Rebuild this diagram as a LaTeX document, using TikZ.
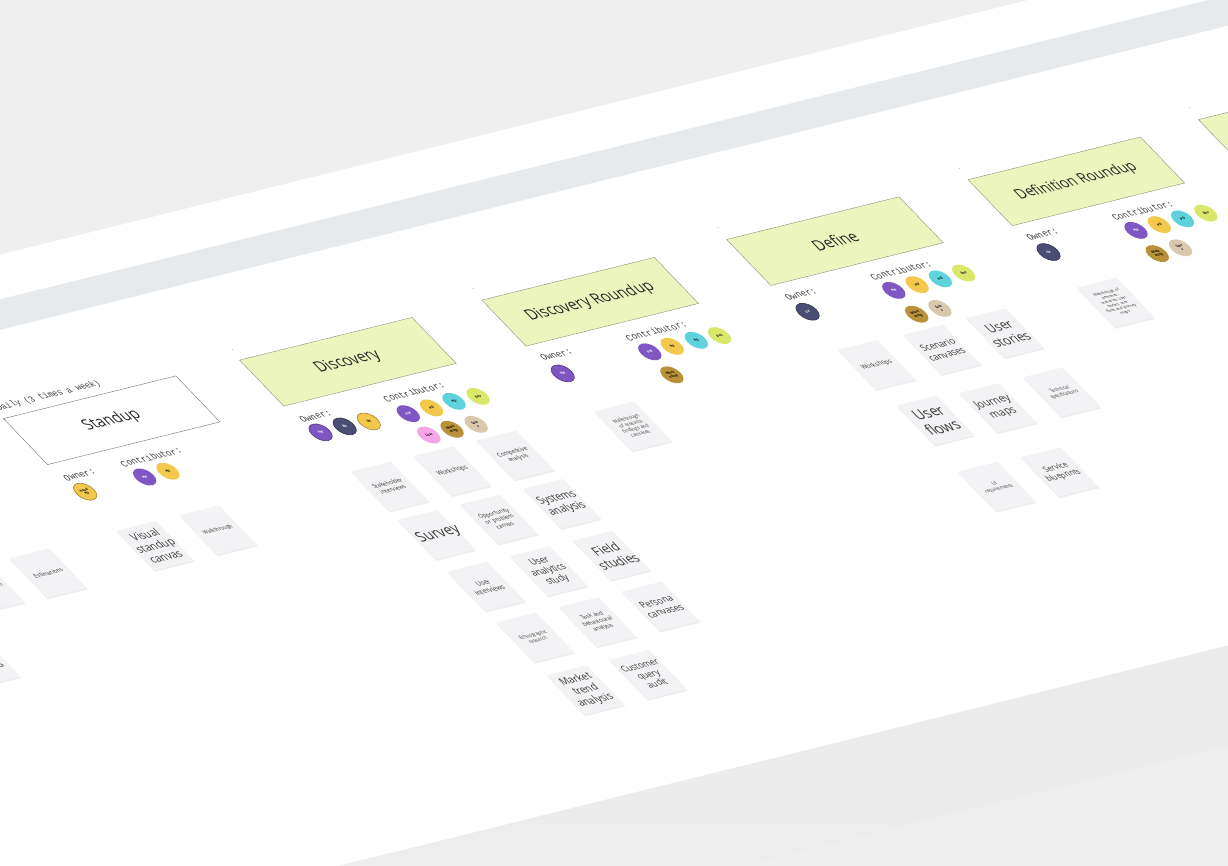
\documentclass[tikz,border=0pt]{standalone}
\usepackage{fontspec}
\setmainfont{Open Sans}
\setmonofont{Liberation Mono}
\usetikzlibrary{shadows}

\definecolor{bggrey}{HTML}{EFEFF0}
\definecolor{stripe}{HTML}{E7EAED}
\definecolor{lime}{HTML}{EDF5BE}
\definecolor{limeline}{HTML}{8E9382}
\definecolor{stickyfill}{HTML}{F3F3F5}
\definecolor{stickytext}{HTML}{3A3A3A}
\definecolor{pm}{HTML}{7E57C2}
\definecolor{pd}{HTML}{F2C94C}
\definecolor{po}{HTML}{5ED3DC}
\definecolor{dev}{HTML}{D9E86B}
\definecolor{cust}{HTML}{F4A6E8}
\definecolor{mkt}{HTML}{B8923A}
\definecolor{sales}{HTML}{D8C8AE}
\definecolor{ba}{HTML}{4B4E74}

\newcommand\fsz[1]{\fontsize{#1pt}{\dimexpr#1pt*6/5\relax}\selectfont}

\begin{document}
\begin{tikzpicture}[x=1pt,y=-1pt,
  frame box/.style={draw=limeline,fill=lime,minimum width=200pt,minimum height=56pt,
    anchor=north west,inner sep=0pt,font=\fsz{16},text=black!85},
  role label/.style={anchor=west,font=\ttfamily\fsz{9.5},text=black!75},
  avatar/.style={circle,minimum size=20pt,inner sep=0pt,align=center,
    font=\fsz{3.4}\bfseries},
  owner/.style={avatar,draw=#1!65!black,fill=#1,line width=0.6pt},
  contrib/.style={avatar,fill=#1},
  sticky/.style={fill=stickyfill,minimum width=46pt,minimum height=48pt,inner sep=1pt,
    align=center,text width=42pt,text=stickytext,
    drop shadow={shadow xshift=0.6pt,shadow yshift=-1.6pt,opacity=0.07,fill=black}},
  dash mark/.style={font=\fsz{5},text=black!70}]

\useasboundingbox (0,0) rectangle (1228,866);
\clip (0,0) rectangle (1228,866);
\fill[bggrey] (0,0) rectangle (1228,866);

\begin{scope}[cm={0.862,0.2135,-0.789,0.821,(239.3pt,-360pt)},transform shape]

% board surface
\fill[white] (-1200,-162) rectangle (2400,522);
\fill[stripe] (-1200,-118) rectangle (2400,-88);
\shade[top color=black!9,bottom color=bggrey] (-1200,522) rectangle (2400,620);

% earlier frame, mostly out of view
\node[sticky,font=\fsz{6}] (prio) at (-442,162) {Prioritisation};
\node[sticky,font=\fsz{6}] (estim) at (-371,163) {Estimations};
\node[sticky,font=\fsz{11}] (stories0) at (-513,234) {User\\stories};

% Standup
\node[frame box,fill=white,draw=black!55] (standup) at (-274,0) {Standup};
\node[anchor=base west,font=\ttfamily\fsz{9},text=black!75] (daily) at (-274,-9) {Daily (3 times a week)};
\node[role label] (stOwner) at (-274,74) {Owner:};
\node[role label] (stContrib) at (-208,74) {Contributor:};
\node[owner=pd] (stHead) at (-263,92) {Head\\PD};
\node[contrib=pm,text=white] (stPM) at (-194,92) {PM};
\node[contrib=pd] (stPD) at (-167,92) {PD};
\node[sticky,font=\fsz{11}] (visual) at (-246,162) {Visual\\standup\\canvas};
\node[sticky,font=\fsz{5.5}] (walk0) at (-173,162) {Walkthrough};

% Discovery
\node[dash mark] (dsDash) at (3,-11) {-};
\node[frame box] (discovery) at (0,0) {Discovery};
\node[role label] (dsOwner) at (0,74) {Owner:};
\node[role label] (dsContrib) at (97,74) {Contributor:};
\node[owner=pm,text=white] (dsO1) at (11,91) {PM};
\node[owner=ba,text=white] (dsO2) at (39,91) {BA};
\node[owner=pd] (dsO3) at (66,92) {UX};
\node[contrib=pm,text=white] (dsC1) at (110,94) {PM};
\node[contrib=pd] (dsC2) at (137,94) {PD};
\node[contrib=po] (dsC3) at (164,93) {PO};
\node[contrib=dev] (dsC4) at (191,94) {Dev};
\node[contrib=cust] (dsC5) at (110,120) {Cust};
\node[contrib=mkt] (dsC6) at (137,120) {Mark\\eting};
\node[contrib=sales] (dsC7) at (164,121) {Sale\\s};

\node[sticky,font=\fsz{6}] (stake) at (27.5,161) {Stakeholder\\interviews};
\node[sticky,font=\fsz{6.5}] (work1) at (100,161) {Workshops};
\node[sticky,font=\fsz{6}] (compet) at (173,161) {Competitive\\analysis};
\node[sticky,font=\fsz{15}] (survey) at (27.5,220) {Survey};
\node[sticky,font=\fsz{6}] (oppor) at (100,220) {Opportunity\\or problem\\canvas};
\node[sticky,font=\fsz{11}] (systems) at (173,220) {Systems\\analysis};
\node[sticky,font=\fsz{7}] (userint) at (27.5,283) {User\\interviews};
\node[sticky,font=\fsz{9.5}] (analytics) at (100,283) {User\\analytics\\study};
\node[sticky,font=\fsz{13}] (field) at (173,283) {Field\\studies};
\node[sticky,font=\fsz{5}] (ethno) at (27.5,345) {Ethnographic\\research};
\node[sticky,font=\fsz{6}] (task) at (100,345) {Task and\\behavioural\\analysis};
\node[sticky,font=\fsz{9.5}] (persona) at (173,345) {Persona\\canvases};
\node[sticky,font=\fsz{10.5}] (market) at (27.5,409) {Market\\trend\\analysis};
\node[sticky,font=\fsz{9}] (customer) at (100,409) {Customer\\query\\audit};

% Discovery Roundup
\node[dash mark] (drDash) at (283,-12) {-};
\node[frame box] (discRound) at (281,0) {Discovery Roundup};
\node[role label] (drOwner) at (281,72) {Owner:};
\node[role label] (drContrib) at (379,73) {Contributor:};
\node[owner=pm,text=white] (drO1) at (291,92) {PM};
\node[contrib=pm,text=white] (drC1) at (392,92) {PM};
\node[contrib=pd] (drC2) at (418,92) {PD};
\node[contrib=po] (drC3) at (446,92) {PO};
\node[contrib=dev] (drC4) at (472,93) {Dev};
\node[contrib=mkt] (drC5) at (392,120) {Mark\\eting};
\node[sticky,font=\fsz{5}] (walk1) at (309.5,161) {Walkthrough\\of research\\findings and\\canvases};

% Define
\node[dash mark] (dfDash) at (567,-12) {-};
\node[frame box] (define) at (565,0) {Define};
\node[role label] (dfOwner) at (565,72) {Owner:};
\node[role label] (dfContrib) at (663,73) {Contributor:};
\node[owner=ba,text=white] (dfO1) at (576,91) {UX};
\node[contrib=pm,text=white] (dfC1) at (676,91) {PM};
\node[contrib=pd] (dfC2) at (703,91) {PD};
\node[contrib=po] (dfC3) at (730,91) {PO};
\node[contrib=dev] (dfC4) at (757,91) {Dev};
\node[contrib=mkt] (dfC5) at (676,120) {Mark\\eting};
\node[contrib=sales] (dfC6) at (703,120) {Sale\\s};

\node[sticky,font=\fsz{6.5}] (work2) at (593,160) {Workshops};
\node[sticky,font=\fsz{9.5}] (scenario) at (668,161) {Scenario\\canvases};
\node[sticky,font=\fsz{13}] (stories) at (742,160) {User\\stories};
\node[sticky,font=\fsz{15}] (flows) at (598,229) {User\\flows};
\node[sticky,font=\fsz{11}] (journey) at (668,232) {Journey\\maps};
\node[sticky,font=\fsz{5}] (techspec) at (742,232) {Technical\\specifications};
\node[sticky,font=\fsz{5}] (uireq) at (596,309) {UI\\requirements};
\node[sticky,font=\fsz{8}] (blueprint) at (668,310) {Service\\blueprints};

% Definition Roundup
\node[dash mark] (rrDash) at (847,-12) {-};
\node[frame box,font=\fsz{15}] (defRound) at (845,0) {Definition Roundup};
\node[role label] (rrOwner) at (845,72) {Owner:};
\node[role label] (rrContrib) at (943,73) {Contributor:};
\node[owner=ba,text=white] (rrO1) at (855.5,91) {UX};
\node[contrib=pm,text=white] (rrC1) at (957,91) {PM};
\node[contrib=pd] (rrC2) at (984,91) {PD};
\node[contrib=po] (rrC3) at (1011,91) {PO};
\node[contrib=dev] (rrC4) at (1038,91) {Dev};
\node[contrib=mkt] (rrC5) at (956,119) {Mark\\eting};
\node[contrib=sales] (rrC6) at (983,119) {Sale\\s};
\node[sticky,font=\fsz{4}] (walk2) at (873,157) {Walkthrough of\\personas,\\scenarios, user\\stories, user\\flows and journey\\maps};

% next frame, cut off
\node[dash mark] (nxDash) at (1117,-15) {-};
\node[frame box] (nextBox) at (1115,-3) {};

\end{scope}
\end{tikzpicture}
\end{document}
